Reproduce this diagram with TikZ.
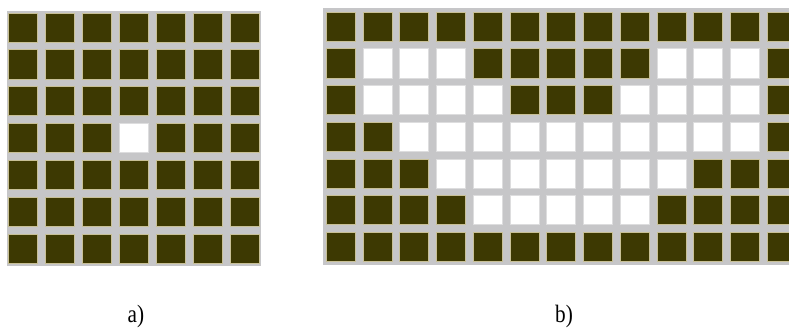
\documentclass[tikz,border=0pt]{standalone}
\usepackage{fontspec}
\setmainfont{Liberation Serif}
\definecolor{cellDark}{RGB}{61,57,2}
\definecolor{cellEdge}{RGB}{200,192,150}
\definecolor{gapGray}{RGB}{198,198,200}
\begin{document}
\begin{tikzpicture}[x=1pt,y=-1pt,
    cell/.style={rectangle, draw=cellEdge, line width=0.4pt, fill=cellDark, minimum size=29pt, inner sep=0pt},
    hole/.style={cell, draw=gapGray!60, fill=white},
    caption/.style={font=\fontsize{25}{27}\selectfont, xscale=0.85, anchor=base}]
    \useasboundingbox (0,0) rectangle (789,329);
    \clip (0,0) rectangle (789,329);

    % Grid a)
    \fill[gapGray] (7,11) rectangle (261,266);
    \foreach \r in {1,...,7}
        \foreach \c in {1,...,7}
            \node[cell] (a-\r-\c) at ({22.8+37*(\c-1)},{27.3+36.9*(\r-1)}) {};
    \node[hole] (a-hole) at (a-4-4) {};

    % Grid b)
    \fill[gapGray] (323,8) rectangle (800,265);
    \foreach \r in {1,...,7}
        \foreach \c in {1,...,13}
            \node[cell] (b-\r-\c) at ({340.5+36.75*(\c-1)},{26.5+36.7*(\r-1)}) {};
    \foreach \r/\c in {2/2,2/3,2/4,2/10,2/11,2/12,
                       3/2,3/3,3/4,3/5,3/9,3/10,3/11,3/12,
                       4/3,4/4,4/5,4/6,4/7,4/8,4/9,4/10,4/11,4/12,
                       5/4,5/5,5/6,5/7,5/8,5/9,5/10,
                       6/5,6/6,6/7,6/8,6/9}
        \node[hole] (b-hole-\r-\c) at (b-\r-\c) {};

    % Captions
    \node[caption] (capA) at (136,322) {a)};
    \node[caption] (capB) at (564,322) {b)};
\end{tikzpicture}
\end{document}
